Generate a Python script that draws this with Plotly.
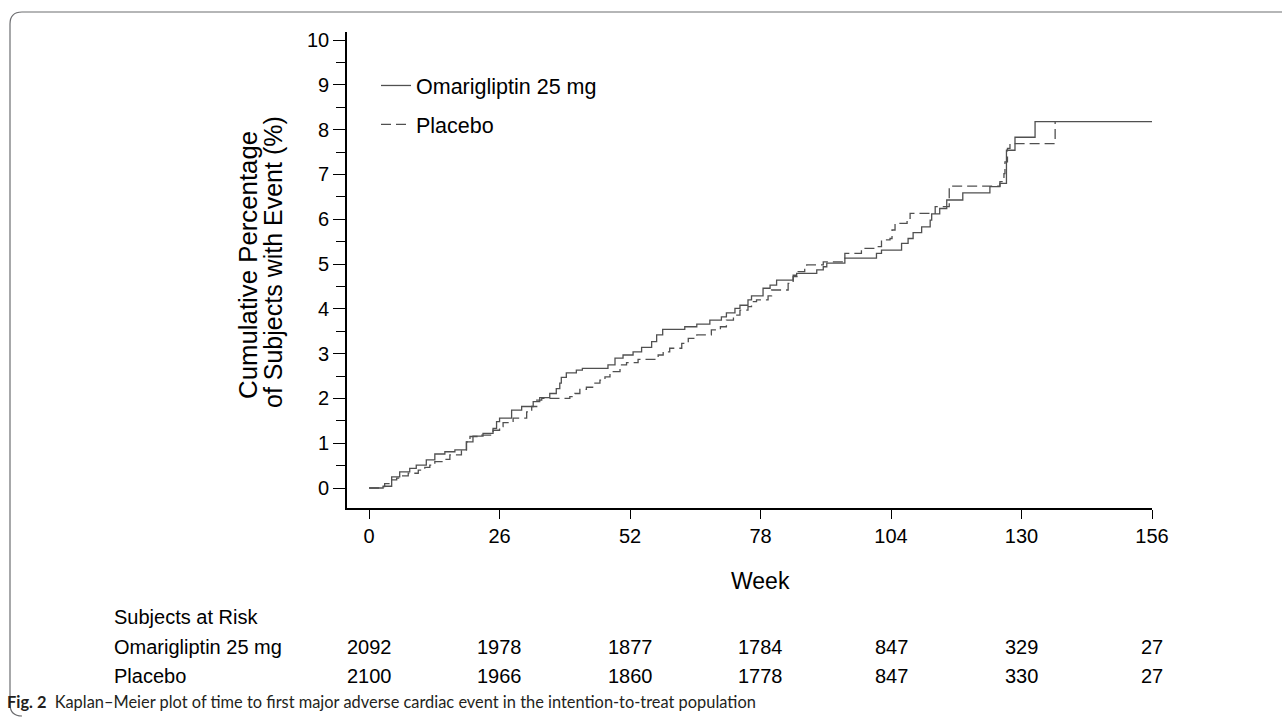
import plotly.graph_objects as go

# ---------------- data ----------------
omari_weeks = [0, 2.8, 4.5, 6.1, 8.1, 9.4, 11.4, 13.1, 15.1, 17.1, 19.4, 20.7, 22.7, 24.7, 25.4,
               26.0, 28.4, 30.4, 32.7, 34.0, 36.0, 37.3, 38.0, 38.3, 39.3, 41.3, 42.5, 47.6, 49.0,
               50.6, 52.6, 54.3, 56.3, 57.3, 58.5, 62.9, 65.3, 67.9, 70.2, 71.2, 72.9, 73.9, 75.5,
               76.2, 78.5, 79.9, 81.2, 84.5, 85.2, 89.2, 90.5, 91.2, 94.8, 101.1, 102.1, 106.1,
               107.4, 108.4, 110.1, 111.8, 112.1, 113.7, 115.1, 118.3, 123.7, 125.7, 127.0, 128.7,
               132.7, 156.0]
omari_pct = [0, 0.04, 0.25, 0.36, 0.44, 0.51, 0.63, 0.76, 0.81, 0.85, 1.03, 1.16, 1.22, 1.33, 1.48,
             1.56, 1.74, 1.82, 1.93, 2.02, 2.11, 2.22, 2.34, 2.47, 2.57, 2.63, 2.67, 2.75, 2.90,
             2.97, 3.04, 3.14, 3.27, 3.42, 3.54, 3.60, 3.66, 3.75, 3.82, 3.91, 4.01, 4.08, 4.20,
             4.29, 4.46, 4.53, 4.64, 4.75, 4.79, 4.87, 4.94, 5.02, 5.13, 5.24, 5.31, 5.46,
             5.57, 5.70, 5.83, 5.98, 6.12, 6.24, 6.43, 6.59, 6.73, 6.80, 7.54, 7.83,
             8.18, 8.18]

placebo_weeks = [0, 2.5, 3.1, 4.5, 5.5, 6.5, 7.8, 9.8, 11.1, 12.1, 13.1, 14.7, 16.1, 18.4, 19.4,
                 20.1, 21.7, 24.7, 26.0, 26.7, 28.7, 31.4, 32.4, 33.4, 34.4, 40.0, 41.0, 42.0,
                 43.3, 44.7, 46.0, 47.0, 48.0, 50.0, 50.3, 51.3, 53.6, 57.6, 58.6, 59.9, 62.3,
                 63.6, 65.3, 68.2, 70.0, 71.2, 72.6, 73.9, 75.5, 76.2, 77.2, 79.5, 80.2, 83.5,
                 84.5, 85.5, 86.8, 87.2, 90.5, 94.8, 98.1, 100.8, 102.1, 103.8, 104.2, 104.8,
                 107.2, 107.8, 112.8, 115.6, 125.7, 126.5, 126.7, 127.2, 127.7, 136.7]
placebo_pct = [0, 0.03, 0.10, 0.18, 0.22, 0.27, 0.33, 0.40, 0.46, 0.51, 0.59, 0.64, 0.74, 0.85, 1.03,
               1.15, 1.18, 1.29, 1.37, 1.46, 1.56, 1.70, 1.82, 1.96, 2.00, 2.04, 2.11, 2.20,
               2.25, 2.34, 2.41, 2.48, 2.60, 2.67, 2.75, 2.80, 2.87, 2.97, 3.04, 3.12, 3.23,
               3.34, 3.42, 3.53, 3.60, 3.75, 3.86, 3.97, 4.05, 4.16, 4.20, 4.29, 4.42, 4.57,
               4.72, 4.83, 4.90, 4.98, 5.05, 5.24, 5.35, 5.39, 5.54, 5.57, 5.76, 5.91,
               6.02, 6.13, 6.28, 6.74, 6.84, 7.02, 7.28, 7.58, 7.69, 8.18]

week_ticks = [0, 26, 52, 78, 104, 130, 156]
y_ticks = [0, 1, 2, 3, 4, 5, 6, 7, 8, 9, 10]

risk_labels = ["Omarigliptin 25 mg", "Placebo"]
risk_omari = [2092, 1978, 1877, 1784, 847, 329, 27]
risk_placebo = [2100, 1966, 1860, 1778, 847, 330, 27]

caption_bold = "Fig. 2"
caption_text = "Kaplan\u2013Meier plot of time to first major adverse cardiac event in the intention-to-treat population"

# ---------------- layout geometry (pixels) ----------------
W, H = 1282, 720
L, R, T, B = 347, 1282 - 1152, 32, 720 - 508
PW, PH = W - L - R, H - T - B


def px(xp):
    return (xp - L) / PW


def py(yp):
    return (H - B - yp) / PH


FONT = "Liberation Sans, Arial, sans-serif"
LINE_COLOR = "#505050"
TXT = dict(family=FONT, color="#000")

fig = go.Figure()
fig.add_trace(go.Scatter(x=omari_weeks, y=omari_pct, mode="lines", line_shape="hv",
                         name="Omarigliptin 25 mg", legendgroup="a",
                         line=dict(color=LINE_COLOR, width=1.3)))
fig.add_trace(go.Scatter(x=placebo_weeks, y=placebo_pct, mode="lines", line_shape="hv",
                         name="Placebo", legendgroup="b",
                         line=dict(color=LINE_COLOR, width=1.3, dash="10px,5px")))

annotations = []


def ann(text, x, y, xref="paper", xanchor="center", size=20, **kw):
    d = dict(text=text, x=x, y=y, xref=xref, yref="paper", xanchor=xanchor, yanchor="middle",
             showarrow=False, font=dict(size=size, **kw.pop("font", TXT)))
    d.update(kw)
    annotations.append(d)


# y-axis title (two lines)
ann("Cumulative Percentage", px(248), py(265), size=25.8, textangle=-90)
ann("of Subjects with Event (%)", px(273), py(262), size=25, textangle=-90)
# x-axis title
ann("Week", 78, py(581), xref="x", size=23)
# risk table
ann("Subjects at Risk", px(112), py(617), xanchor="left", size=20)
for lab, row, ypix in zip(risk_labels, [risk_omari, risk_placebo], [647, 676]):
    ann(lab, px(112), py(ypix), xanchor="left", size=20)
    for wk, n in zip(week_ticks, row):
        ann(str(n), wk, py(ypix), xref="x", size=20)
# caption
ann(f"<b>{caption_bold}</b>\u2002{caption_text}", px(5), py(701), xanchor="left", size=16.4,
    font=dict(family="Lato, sans-serif", color="#231f20"))

# figure frame (rounded left corners)
x0, x1, y0, y1, r = 10, 1282, 12, 716, 12
frame = (f"M {px(x1)},{py(y0)} L {px(x0 + r)},{py(y0)} Q {px(x0)},{py(y0)} {px(x0)},{py(y0 + r)} "
         f"L {px(x0)},{py(y1 - r)} Q {px(x0)},{py(y1)} {px(x0 + r)},{py(y1)}")
shapes = [dict(type="path", path=frame, xref="paper", yref="paper",
               line=dict(color="#6d6e71", width=1.2))]

fig.update_layout(
    width=W, height=H, autosize=False,
    margin=dict(l=L, r=R, t=T, b=B, pad=0),
    paper_bgcolor="white", plot_bgcolor="white",
    font=dict(family=FONT, color="#000", size=20),
    showlegend=True,
    legend=dict(x=px(376), y=py(65), xanchor="left", yanchor="top",
                bgcolor="rgba(0,0,0,0)", font=dict(size=21.5, family=FONT, color="#000"),
                tracegroupgap=8, itemwidth=30),
    annotations=annotations,
    shapes=shapes,
    xaxis=dict(range=[-4.4, 156], tickvals=week_ticks, ticks="outside", ticklen=9, tickwidth=1.3,
               tickcolor="#000", showline=True, linecolor="#000", linewidth=1.6, showgrid=False,
               zeroline=False, tickfont=dict(size=20, family=FONT, color="#000")),
    yaxis=dict(range=[-0.446, 10.18], tickvals=y_ticks, ticks="outside", ticklen=12, tickwidth=1.3,
               tickcolor="#000", showline=True, linecolor="#000", linewidth=1.6, showgrid=False,
               zeroline=False, tickfont=dict(size=20, family=FONT, color="#000"),
               minor=dict(tickvals=[v + 0.5 for v in y_ticks[:-1]], ticks="outside", ticklen=9,
                          tickwidth=1.3, tickcolor="#000", showgrid=False)),
)

fig.write_html("out.html", config={"displayModeBar": False},
               post_script="document.body.style.margin='0';")
